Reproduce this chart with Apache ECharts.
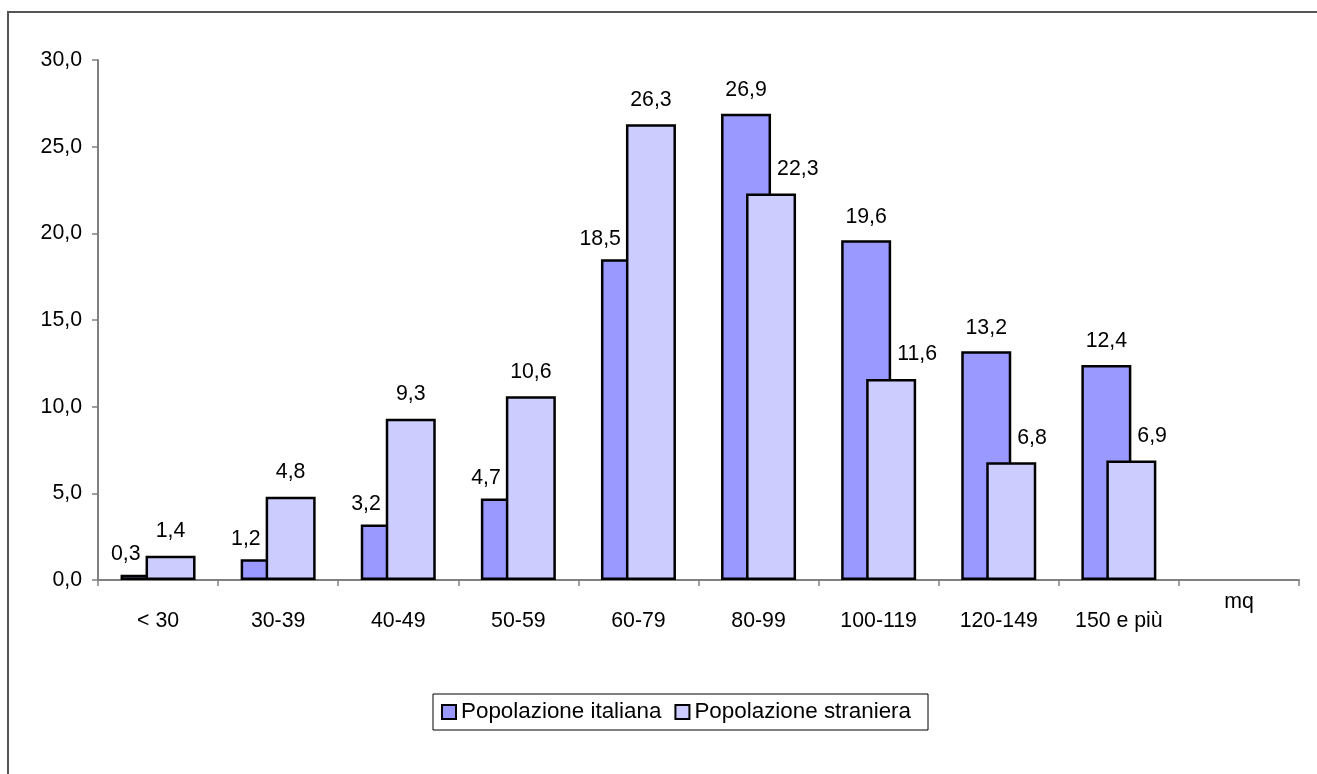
<!DOCTYPE html>
<html>
<head>
<meta charset="utf-8">
<title>Popolazione per superficie abitazione</title>
<script src="https://cdn.jsdelivr.net/npm/echarts@6/dist/echarts.min.js"></script>
<style>
  html, body { margin: 0; padding: 0; background: #fff; overflow: hidden; }
  #main { width: 1317px; height: 774px; }
</style>
</head>
<body>
<div id="main"></div>
<script>
// classi di superficie (mq)
const categories = ['< 30', '30-39', '40-49', '50-59', '60-79', '80-99', '100-119', '120-149', '150 e più'];
const unitLabel = 'mq';
// valori percentuali
const italiana = [0.3, 1.2, 3.2, 4.7, 18.5, 26.9, 19.6, 13.2, 12.4];
const straniera = [1.4, 4.8, 9.3, 10.6, 26.3, 22.3, 11.6, 6.8, 6.9];
const seriesNames = ['Popolazione italiana', 'Popolazione straniera'];

const font = "'Liberation Sans', Arial, sans-serif";
const fmt = v => Number(v).toFixed(1).replace('.', ',');

// etichette spostate di lato quando la barra vicina è più alta
const italianaData = italiana.map((v, i) => (
  straniera[i] > v
    ? { value: v, label: { align: 'right', offset: [-5, 3] } }
    : { value: v }
));
const stranieraData = straniera.map((v, i) => (
  italiana[i] > v
    ? { value: v, label: { align: 'left', offset: [6, 0] } }
    : { value: v }
));

let myChart = echarts.init(document.getElementById('main'));
let option = {
  backgroundColor: '#fff',
  textStyle: { fontFamily: font, color: '#000' },
  // cornice del grafico: solo lato sinistro e lato alto sono visibili
  graphic: [{
    type: 'polyline',
    silent: true,
    z: -1,
    shape: { points: [[8, 800], [8, 12], [1330, 12]] },
    style: { fill: null, stroke: '#555', lineWidth: 2 }
  }],
  grid: {
    left: 98,
    right: 18,
    top: 60,
    bottom: 194,
    containLabel: false
  },
  legend: {
    left: 433,
    top: 694,
    orient: 'horizontal',
    padding: [7, 17, 7, 8],
    icon: 'rect',
    itemWidth: 14,
    itemHeight: 14,
    itemGap: 13,
    borderColor: '#000',
    borderWidth: 1,
    textStyle: { fontSize: 22.4, color: '#000', fontFamily: font },
    data: seriesNames
  },
  xAxis: {
    type: 'category',
    data: categories.concat([unitLabel]),
    axisLine: { lineStyle: { color: '#808080', width: 2 } },
    axisTick: { show: true, length: 6, lineStyle: { color: '#808080', width: 1.5 } },
    axisLabel: {
      margin: 12,
      interval: 0,
      formatter: v => (v === unitLabel ? '{m|' + v + '}' : '{c|' + v + '}'),
      rich: {
        c: { fontSize: 21.3, color: '#000', fontFamily: font, padding: [19, 0, 0, 0] },
        m: { fontSize: 21.3, color: '#000', fontFamily: font }
      }
    }
  },
  yAxis: {
    type: 'value',
    min: 0,
    max: 30,
    interval: 5,
    splitLine: { show: false },
    axisLine: { show: true, lineStyle: { color: '#808080', width: 2 } },
    axisTick: { show: true, length: 6, lineStyle: { color: '#808080', width: 1.5 } },
    axisLabel: {
      margin: 16,
      fontSize: 21.3,
      color: '#000',
      fontFamily: font,
      formatter: fmt
    }
  },
  series: [
    {
      name: seriesNames[0],
      type: 'bar',
      data: italianaData,
      barWidth: 50,
      barGap: '-50%',
      itemStyle: { color: '#9999FF', borderColor: '#000', borderWidth: 2.5 },
      label: {
        show: true,
        position: 'top',
        distance: 13,
        fontSize: 21.3,
        color: '#000',
        fontFamily: font,
        formatter: p => fmt(p.value)
      }
    },
    {
      name: seriesNames[1],
      type: 'bar',
      data: stranieraData,
      barWidth: 50,
      barGap: '-50%',
      itemStyle: { color: '#CCCCFF', borderColor: '#000', borderWidth: 2.5 },
      label: {
        show: true,
        position: 'top',
        distance: 14,
        fontSize: 21.3,
        color: '#000',
        fontFamily: font,
        formatter: p => fmt(p.value)
      }
    }
  ]
};
myChart.setOption(option);
</script>
</body>
</html>
